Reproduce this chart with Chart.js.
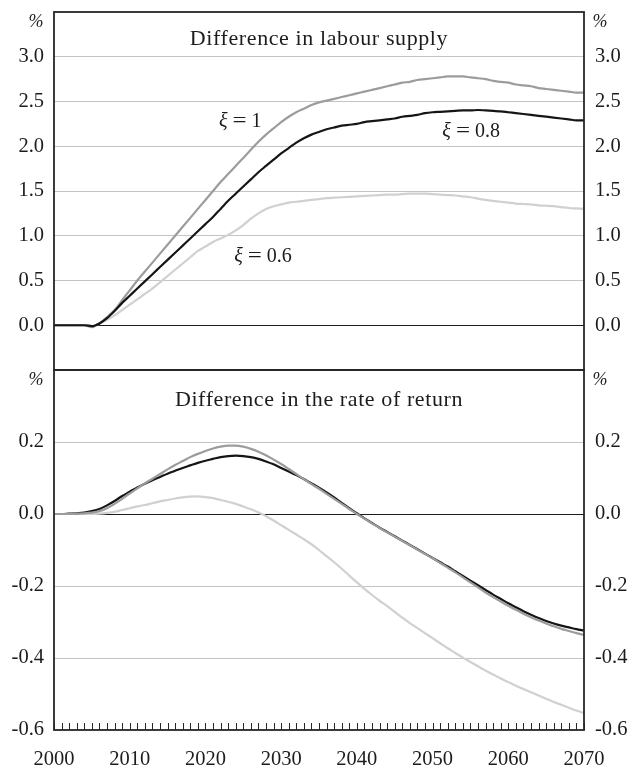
<!DOCTYPE html>
<html>
<head>
<meta charset="utf-8">
<script src="https://cdn.jsdelivr.net/npm/chart.js@4/dist/chart.umd.min.js"></script>
<style>
  html, body { margin: 0; padding: 0; background: #fff; }
  #wrap { position: relative; width: 630px; height: 765px; }
  #wrap canvas { position: absolute; left: 0; top: 0; }
</style>
</head>
<body>
<div id="wrap">
  <canvas id="labour" width="630" height="765"></canvas>
  <canvas id="ret" width="630" height="765"></canvas>
</div>
<script>
// Years on the horizontal axis
const years = [
  2000, 2001, 2002, 2003, 2004, 2005, 2006, 2007, 2008, 2009,
  2010, 2011, 2012, 2013, 2014, 2015, 2016, 2017, 2018, 2019,
  2020, 2021, 2022, 2023, 2024, 2025, 2026, 2027, 2028, 2029,
  2030, 2031, 2032, 2033, 2034, 2035, 2036, 2037, 2038, 2039,
  2040, 2041, 2042, 2043, 2044, 2045, 2046, 2047, 2048, 2049,
  2050, 2051, 2052, 2053, 2054, 2055, 2056, 2057, 2058, 2059,
  2060, 2061, 2062, 2063, 2064, 2065, 2066, 2067, 2068, 2069,
  2070
];

// Difference in labour supply, %
const labourXi1 = [
  0, 0, 0, 0, 0, -0.02, 0.02, 0.09, 0.17, 0.28,
  0.39, 0.5, 0.6, 0.7, 0.8, 0.9, 1.0, 1.1, 1.2, 1.3,
  1.4, 1.5, 1.6, 1.69, 1.78, 1.87, 1.96, 2.05, 2.13, 2.2,
  2.27, 2.33, 2.38, 2.42, 2.46, 2.49, 2.51, 2.53, 2.55, 2.57,
  2.59, 2.61, 2.63, 2.65, 2.67, 2.69, 2.71, 2.72, 2.74, 2.75,
  2.76, 2.77, 2.78, 2.78, 2.78, 2.77, 2.76, 2.75, 2.73, 2.72,
  2.71, 2.69, 2.68, 2.67, 2.65, 2.64, 2.63, 2.62, 2.61, 2.6,
  2.6
];
const labourXi08 = [
  0, 0, 0, 0, 0, -0.01, 0.02, 0.08, 0.16, 0.25,
  0.33, 0.41, 0.49, 0.57, 0.65, 0.73, 0.81, 0.89, 0.97, 1.05,
  1.13, 1.21, 1.3, 1.39, 1.47, 1.55, 1.63, 1.71, 1.78, 1.85,
  1.92, 1.98, 2.04, 2.09, 2.13, 2.16, 2.19, 2.21, 2.23, 2.24,
  2.25, 2.27, 2.28, 2.29, 2.3, 2.31, 2.33, 2.34, 2.35, 2.37,
  2.38, 2.385, 2.39, 2.395, 2.4, 2.4, 2.405, 2.4, 2.395, 2.39,
  2.38, 2.37, 2.36, 2.35, 2.34, 2.33, 2.32, 2.31, 2.3, 2.29,
  2.29
];
const labourXi06 = [
  0, 0, 0, 0, 0, -0.01, 0.02, 0.06, 0.11, 0.17,
  0.23, 0.29, 0.35, 0.41, 0.48, 0.55, 0.62, 0.69, 0.76, 0.83,
  0.88, 0.93, 0.97, 1.01, 1.06, 1.12, 1.19, 1.25, 1.3, 1.33,
  1.35, 1.37, 1.38, 1.39, 1.4, 1.41, 1.42, 1.425, 1.43, 1.435,
  1.44, 1.445, 1.45, 1.455, 1.46, 1.46, 1.465, 1.47, 1.47, 1.47,
  1.465, 1.46, 1.455, 1.45, 1.44, 1.43, 1.415, 1.4, 1.39, 1.38,
  1.37, 1.36, 1.355, 1.35, 1.34, 1.335, 1.33, 1.32, 1.31, 1.305,
  1.3
];

// Difference in the rate of return, percentage points
const returnXi1 = [
  0, 0, 0, 0.001, 0.002, 0.004, 0.008, 0.016, 0.028, 0.042,
  0.057, 0.071, 0.085, 0.098, 0.111, 0.124, 0.136, 0.147, 0.158, 0.167,
  0.175, 0.182, 0.187, 0.19, 0.19, 0.187, 0.181, 0.173, 0.163, 0.151,
  0.139, 0.125, 0.111, 0.097, 0.083, 0.07, 0.056, 0.042, 0.028, 0.014,
  0.0, -0.013, -0.026, -0.039, -0.051, -0.063, -0.075, -0.087, -0.099, -0.111,
  -0.123, -0.136, -0.149, -0.162, -0.176, -0.19, -0.204, -0.218, -0.231, -0.243,
  -0.255, -0.266, -0.277, -0.287, -0.296, -0.304, -0.312, -0.319, -0.325, -0.331,
  -0.336
];
const returnXi08 = [
  0, 0, 0.001, 0.002, 0.004, 0.008, 0.014, 0.024, 0.036, 0.05,
  0.062, 0.074, 0.084, 0.094, 0.103, 0.112, 0.12, 0.128, 0.135, 0.142,
  0.148, 0.153, 0.158, 0.161, 0.162, 0.161, 0.158, 0.153, 0.146, 0.138,
  0.128, 0.118, 0.108, 0.097, 0.085, 0.073, 0.06, 0.046, 0.031, 0.016,
  0.002, -0.012, -0.025, -0.038, -0.05, -0.062, -0.074, -0.086, -0.098, -0.11,
  -0.122, -0.134, -0.146, -0.159, -0.172, -0.185, -0.198, -0.211, -0.224, -0.236,
  -0.248, -0.259, -0.27, -0.28, -0.289, -0.297, -0.304, -0.31, -0.315, -0.32,
  -0.324
];
const returnXi06 = [
  0, 0, 0, 0, 0, 0, 0.001, 0.003, 0.006, 0.011,
  0.016, 0.021, 0.025, 0.03, 0.035, 0.039, 0.043, 0.046, 0.048, 0.049,
  0.047, 0.044, 0.039, 0.034, 0.028, 0.021, 0.013, 0.004, -0.006, -0.018,
  -0.031, -0.044, -0.057, -0.07, -0.084, -0.1, -0.117, -0.134, -0.152, -0.171,
  -0.19, -0.208, -0.225, -0.241, -0.256, -0.272, -0.288, -0.303, -0.317, -0.331,
  -0.345, -0.359, -0.373, -0.386, -0.399, -0.411, -0.423, -0.435, -0.446, -0.457,
  -0.467, -0.477, -0.486, -0.495, -0.504, -0.513, -0.522, -0.53, -0.538, -0.546,
  -0.553
];

// Axis ticks and their labels
const labourTickValues = [-0.5, 0, 0.5, 1, 1.5, 2, 2.5, 3, 3.5];
const labourTickLabels = ['', '0.0', '0.5', '1.0', '1.5', '2.0', '2.5', '3.0', ''];
const returnTickValues = [-0.6, -0.4, -0.2, 0, 0.2, 0.4];
const returnTickLabels = ['-0.6', '-0.4', '-0.2', '0.0', '0.2', ''];
const decadeValues = [2000, 2010, 2020, 2030, 2040, 2050, 2060, 2070];
const decadeLabels = ['2000', '2010', '2020', '2030', '2040', '2050', '2060', '2070'];

// Panel titles and curve labels
const labourTitle = 'Difference in labour supply';
const returnTitle = 'Difference in the rate of return';
const unitLabel = '%';
const labourCurveLabels = [
  { value: '1', x: 2024.6, y: 2.27 },
  { value: '0.8', x: 2055.1, y: 2.16 },
  { value: '0.6', x: 2027.6, y: 0.77 }
];

const FONT = "'Liberation Serif', 'Times New Roman', serif";
const INK = '#1c1c1c';
const COL_XI1 = '#9c9c9c';
const COL_XI08 = '#151515';
const COL_XI06 = '#d0d0d0';
const GRID = '#c4c4c4';
const LEFT_W = 54, RIGHT_W = 46;

function toPoints(vals) {
  return vals.map((v, i) => ({ x: years[i], y: v }));
}

function yScale(position, min, max, values, labels, withGrid) {
  return {
    type: 'linear',
    position: position,
    min: min,
    max: max,
    afterBuildTicks: s => { s.ticks = values.map(v => ({ value: v })); },
    afterFit: s => {
      s.width = position === 'left' ? LEFT_W : RIGHT_W;
      s.paddingTop = 0;
      s.paddingBottom = 0;
    },
    border: { display: false },
    grid: {
      display: withGrid,
      drawTicks: false,
      lineWidth: 1,
      color: c => {
        const v = c.tick ? c.tick.value : null;
        if (v === 0) return INK;
        if (v === min || v === max) return 'rgba(0,0,0,0)';
        return GRID;
      }
    },
    ticks: {
      padding: position === 'left' ? 10 : 11,
      color: INK,
      font: { family: FONT, size: 20.5 },
      callback: (val, idx) => labels[idx]
    }
  };
}

// Frame round the plot area, drawn over the curves
const framePlugin = {
  id: 'frame',
  afterDatasetsDraw(chart, args, opts) {
    const { ctx, chartArea: a } = chart;
    ctx.save();
    ctx.strokeStyle = '#262626';
    ctx.lineWidth = 1.8;
    ctx.strokeRect(a.left, a.top, a.right - a.left, a.bottom - a.top);
    // yearly tick marks standing on the bottom axis
    if (opts.yearTicks) {
      const x = chart.scales.x;
      ctx.lineWidth = 1;
      ctx.strokeStyle = '#262626';
      ctx.beginPath();
      years.forEach(yr => {
        const px = Math.round(x.getPixelForValue(yr)) + 0.5;
        ctx.moveTo(px, a.bottom);
        ctx.lineTo(px, a.bottom - 7);
      });
      ctx.stroke();
    }
    ctx.restore();
  }
};

// Panel title, unit marks and the ξ labels
function drawXiLabel(ctx, cx, cy, value) {
  const size = 20;
  ctx.font = 'italic ' + size + 'px ' + FONT;
  const wXi = ctx.measureText('ξ').width;
  ctx.font = size + 'px ' + FONT;
  const wEq = ctx.measureText('=').width * 1.25;
  const wVal = ctx.measureText(value).width;
  const gap = 5;
  const total = wXi + gap + wEq + gap + wVal;
  let x = cx - total / 2;
  ctx.textBaseline = 'middle';
  ctx.textAlign = 'left';
  ctx.fillStyle = INK;
  ctx.font = 'italic ' + size + 'px ' + FONT;
  ctx.fillText('ξ', x, cy);
  x += wXi + gap;
  ctx.font = size + 'px ' + FONT;
  ctx.save();
  ctx.translate(x, cy);
  ctx.scale(1.25, 1);
  ctx.fillText('=', 0, 0);
  ctx.restore();
  x += wEq + gap;
  ctx.fillText(value, x, cy);
}

const textPlugin = {
  id: 'panelText',
  afterDraw(chart, args, opts) {
    const { ctx, chartArea: a } = chart;
    ctx.save();
    ctx.fillStyle = INK;
    ctx.textAlign = 'center';
    ctx.textBaseline = 'middle';
    ctx.font = '22px ' + FONT;
    ctx.letterSpacing = '0.6px';
    ctx.fillText(opts.title, (a.left + a.right) / 2, a.top + opts.titleOffset);
    ctx.letterSpacing = '0px';
    ctx.font = 'italic 18px ' + FONT;
    ctx.fillText(unitLabel, a.left - 18, a.top + 10);
    ctx.fillText(unitLabel, a.right + 16, a.top + 10);
    if (opts.curveLabels) {
      const xs = chart.scales.x, ys = chart.scales.y;
      opts.curveLabels.forEach(l => {
        drawXiLabel(ctx, xs.getPixelForValue(l.x), ys.getPixelForValue(l.y), l.value);
      });
    }
    ctx.restore();
  }
};

function lineDataset(label, vals, color) {
  return {
    label: label,
    data: toPoints(vals),
    borderColor: color,
    borderWidth: 2.2,
    pointRadius: 0,
    cubicInterpolationMode: 'monotone',
    fill: false
  };
}

// Upper panel: labour supply
new Chart(document.getElementById('labour'), {
  type: 'line',
  data: {
    datasets: [
      lineDataset('ξ = 0.8', labourXi08, COL_XI08),
      lineDataset('ξ = 1', labourXi1, COL_XI1),
      lineDataset('ξ = 0.6', labourXi06, COL_XI06)
    ]
  },
  options: {
    responsive: false,
    animation: false,
    devicePixelRatio: 1,
    layout: { padding: { top: 12, bottom: 395, left: 0, right: 0 } },
    plugins: {
      legend: { display: false },
      tooltip: { enabled: false },
      frame: { yearTicks: false },
      panelText: { title: labourTitle, titleOffset: 27, curveLabels: labourCurveLabels }
    },
    scales: {
      x: { type: 'linear', min: 2000, max: 2070, display: false },
      y: yScale('left', -0.5, 3.5, labourTickValues, labourTickLabels, true),
      yRight: yScale('right', -0.5, 3.5, labourTickValues, labourTickLabels, false)
    }
  },
  plugins: [framePlugin, textPlugin]
});

// Lower panel: rate of return
new Chart(document.getElementById('ret'), {
  type: 'line',
  data: {
    datasets: [
      lineDataset('ξ = 1', returnXi1, COL_XI1),
      lineDataset('ξ = 0.8', returnXi08, COL_XI08),
      lineDataset('ξ = 0.6', returnXi06, COL_XI06)
    ]
  },
  options: {
    responsive: false,
    animation: false,
    devicePixelRatio: 1,
    layout: { padding: { top: 370, bottom: 0, left: 0, right: 0 } },
    plugins: {
      legend: { display: false },
      tooltip: { enabled: false },
      frame: { yearTicks: true },
      panelText: { title: returnTitle, titleOffset: 30 }
    },
    scales: {
      x: {
        type: 'linear',
        min: 2000,
        max: 2070,
        afterBuildTicks: s => { s.ticks = decadeValues.map(v => ({ value: v })); },
        afterFit: s => { s.height = 35; s.paddingLeft = 0; s.paddingRight = 0; },
        border: { display: false },
        grid: { display: false, drawTicks: false },
        ticks: {
          padding: 17,
          maxRotation: 0,
          autoSkip: false,
          color: INK,
          font: { family: FONT, size: 20.5 },
          callback: (val, idx) => decadeLabels[idx]
        }
      },
      y: yScale('left', -0.6, 0.4, returnTickValues, returnTickLabels, true),
      yRight: yScale('right', -0.6, 0.4, returnTickValues, returnTickLabels, false)
    }
  },
  plugins: [framePlugin, textPlugin]
});
</script>
</body>
</html>
